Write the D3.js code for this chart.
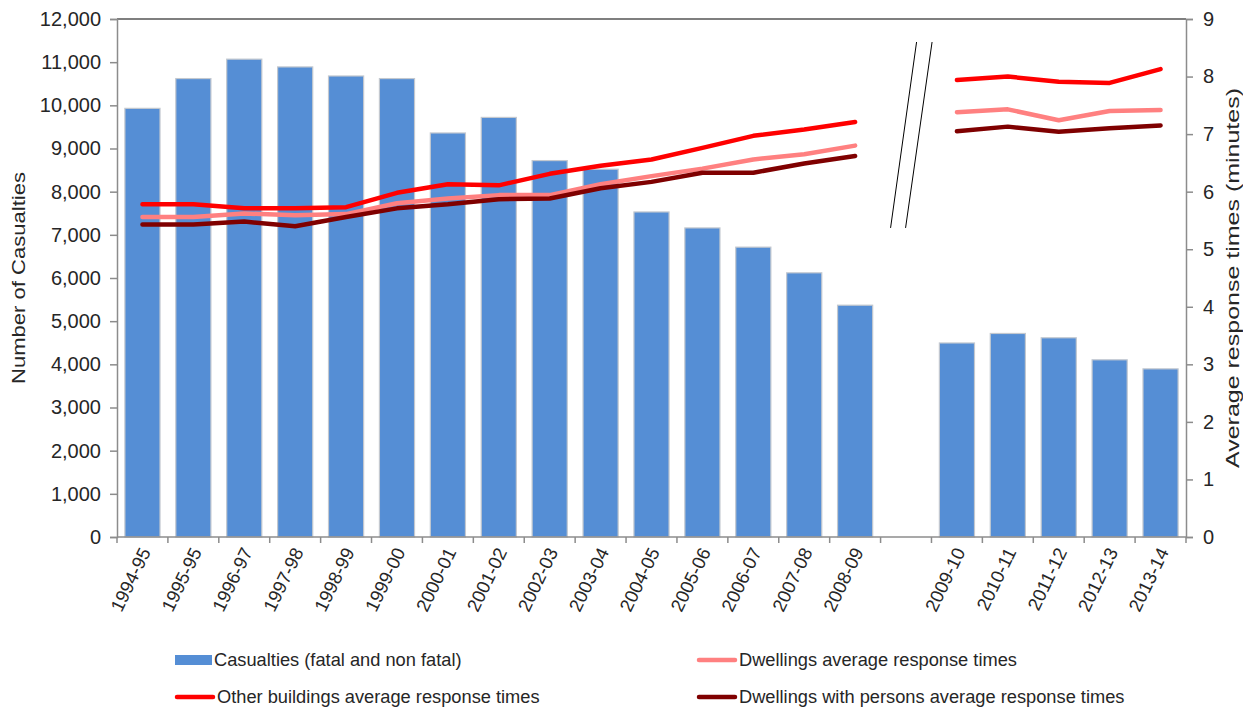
<!DOCTYPE html>
<html>
<head>
<meta charset="utf-8">
<script src="https://cdn.jsdelivr.net/npm/d3@7"></script>
<style>
  html, body { margin: 0; padding: 0; background: #fff; }
  svg { display: block; font-family: "Liberation Sans", Arial, sans-serif; }
</style>
</head>
<body>
<svg id="chart" width="1243" height="714"></svg>
<script>
// Financial years; the empty slot separates the two reporting periods
const categories = ["1994-95","1995-95","1996-97","1997-98","1998-99","1999-00","2000-01","2001-02",
  "2002-03","2003-04","2004-05","2005-06","2006-07","2007-08","2008-09","",
  "2009-10","2010-11","2011-12","2012-13","2013-14"];

// Casualties (fatal and non fatal)
const casualties = [9930,10620,11070,10890,10680,10620,9360,9720,8720,8520,7530,7160,6715,6120,5370,null,
  4495,4715,4615,4105,3895];

// Average response times (minutes)
const dwellings = [5.56,5.56,5.62,5.59,5.61,5.80,5.88,5.94,5.94,6.13,6.27,6.40,6.56,6.65,6.80,null,
  7.38,7.43,7.24,7.40,7.42];
const otherBuildings = [5.78,5.78,5.71,5.71,5.73,5.98,6.13,6.11,6.31,6.45,6.56,6.76,6.97,7.08,7.21,null,
  7.94,8.00,7.91,7.89,8.13];
const dwellingsPersons = [5.43,5.43,5.48,5.40,5.56,5.71,5.78,5.87,5.88,6.06,6.17,6.33,6.33,6.49,6.62,null,
  7.05,7.13,7.04,7.10,7.15];

const leftTicks = [0,1000,2000,3000,4000,5000,6000,7000,8000,9000,10000,11000,12000];
const rightTicks = [0,1,2,3,4,5,6,7,8,9];

const svg = d3.select("#chart");
const plotL = 117, plotR = 1186, plotT = 19, plotB = 537;
const axisColor = "#8c8c8c", textColor = "#262626";

const x = d3.scaleBand().domain(categories).range([plotL, plotR])
  .paddingInner(0.31).paddingOuter(0.155);
const yL = d3.scaleLinear().domain([0, 12000]).range([plotB, plotT]);
const yR = d3.scaleLinear().domain([0, 9]).range([plotB, plotT]);
const step = x.step();
const gap = (step - x.bandwidth()) / 2;

// Bars
svg.append("g").selectAll("rect")
  .data(categories.map((c, i) => ({c, v: casualties[i]})).filter(d => d.v != null))
  .join("rect")
  .attr("x", d => x(d.c))
  .attr("y", d => yL(d.v))
  .attr("width", x.bandwidth())
  .attr("height", d => yL(0) - yL(d.v))
  .attr("fill", "#558ed5")
  .attr("stroke", "#c3c8cf")
  .attr("stroke-width", 1.2);

// Frame top line
svg.append("line").attr("x1", plotL).attr("x2", plotR).attr("y1", plotT).attr("y2", plotT)
  .attr("stroke", "#555").attr("stroke-width", 1.5);

// Left axis
const gL = svg.append("g").attr("transform", `translate(${plotL},0)`)
  .call(d3.axisLeft(yL).tickValues(leftTicks).tickSize(7).tickPadding(9)
    .tickFormat(d3.format(",")));
// Right axis
const gR = svg.append("g").attr("transform", `translate(${plotR},0)`)
  .call(d3.axisRight(yR).tickValues(rightTicks).tickSize(7).tickPadding(10));
[gL, gR].forEach(g => {
  g.select(".domain").attr("stroke", axisColor).attr("stroke-width", 1.5);
  g.selectAll(".tick line").attr("stroke", axisColor).attr("stroke-width", 1.5);
  g.selectAll(".tick text").attr("fill", textColor).style("font-size", "20px");
});

// Bottom axis: baseline, ticks at category boundaries, rotated labels
svg.append("line").attr("x1", plotL).attr("x2", plotR).attr("y1", plotB).attr("y2", plotB)
  .attr("stroke", axisColor).attr("stroke-width", 1.5);
const bounds = categories.map(c => x(c) - gap).concat([x(categories[categories.length - 1]) + x.bandwidth() + gap]);
svg.append("g").selectAll("line").data(bounds).join("line")
  .attr("x1", d => d).attr("x2", d => d).attr("y1", plotB).attr("y2", plotB + 6)
  .attr("stroke", axisColor).attr("stroke-width", 1.5);
svg.append("g").selectAll("text").data(categories.filter(c => c !== "")).join("text")
  .attr("transform", c => `translate(${x(c) + x.bandwidth() / 2 + 3},${plotB + 12}) rotate(-64)`)
  .attr("text-anchor", "end").attr("dy", "0.35em")
  .attr("fill", textColor).style("font-size", "18.5px")
  .text(c => c);

// Response time lines
const seriesList = [
  {values: dwellings, color: "#ff8080"},
  {values: otherBuildings, color: "#ff0000"},
  {values: dwellingsPersons, color: "#7f0000"}
];
const line = d3.line()
  .defined(d => d.v != null)
  .x(d => x(d.c) + x.bandwidth() / 2)
  .y(d => yR(d.v));
seriesList.forEach(s => {
  svg.append("path")
    .datum(categories.map((c, i) => ({c, v: s.values[i]})))
    .attr("d", line)
    .attr("fill", "none")
    .attr("stroke", s.color)
    .attr("stroke-width", 4.5)
    .attr("stroke-linejoin", "round")
    .attr("stroke-linecap", "round");
});

// Break marks in the gap between periods
const bx = x("") - gap;
[[36, 10], [51.5, 25]].forEach(([t, b]) => {
  svg.append("line")
    .attr("x1", bx + t).attr("y1", yR(8.6))
    .attr("x2", bx + b).attr("y2", yR(5.37))
    .attr("stroke", "#000").attr("stroke-width", 1);
});

// Axis titles
svg.append("text")
  .attr("transform", `translate(25,${(plotT + plotB) / 2}) rotate(-90)`)
  .attr("text-anchor", "middle").attr("fill", textColor).style("font-size", "19px")
  .attr("textLength", 212).attr("lengthAdjust", "spacingAndGlyphs")
  .text("Number  of Casualties");
svg.append("text")
  .attr("transform", `translate(1239,${(plotT + plotB) / 2}) rotate(-90)`)
  .attr("text-anchor", "middle").attr("fill", textColor).style("font-size", "19px")
  .attr("textLength", 380).attr("lengthAdjust", "spacingAndGlyphs")
  .text("Average  response times (minutes)");

// Legend
const legend = [
  {label: "Casualties (fatal and non fatal)", type: "bar", color: "#558ed5", x: 175, y: 660},
  {label: "Dwellings average response times", type: "line", color: "#ff8080", x: 697, y: 660},
  {label: "Other buildings average response times", type: "line", color: "#ff0000", x: 175, y: 697},
  {label: "Dwellings with persons average response times", type: "line", color: "#7f0000", x: 697, y: 697}
];
const lg = svg.append("g").selectAll("g").data(legend).join("g")
  .attr("transform", d => `translate(${d.x},${d.y})`);
lg.filter(d => d.type === "bar").append("rect")
  .attr("x", 0).attr("y", -5).attr("width", 37).attr("height", 10).attr("fill", d => d.color);
lg.filter(d => d.type === "line").append("line")
  .attr("x1", 2).attr("x2", 38).attr("y1", 0).attr("y2", 0)
  .attr("stroke", d => d.color).attr("stroke-width", 4.5).attr("stroke-linecap", "round");
lg.append("text")
  .attr("x", d => d.type === "bar" ? 39 : 42).attr("y", 0).attr("dy", "0.35em")
  .attr("fill", textColor).style("font-size", "18.25px")
  .text(d => d.label);
</script>
</body>
</html>
